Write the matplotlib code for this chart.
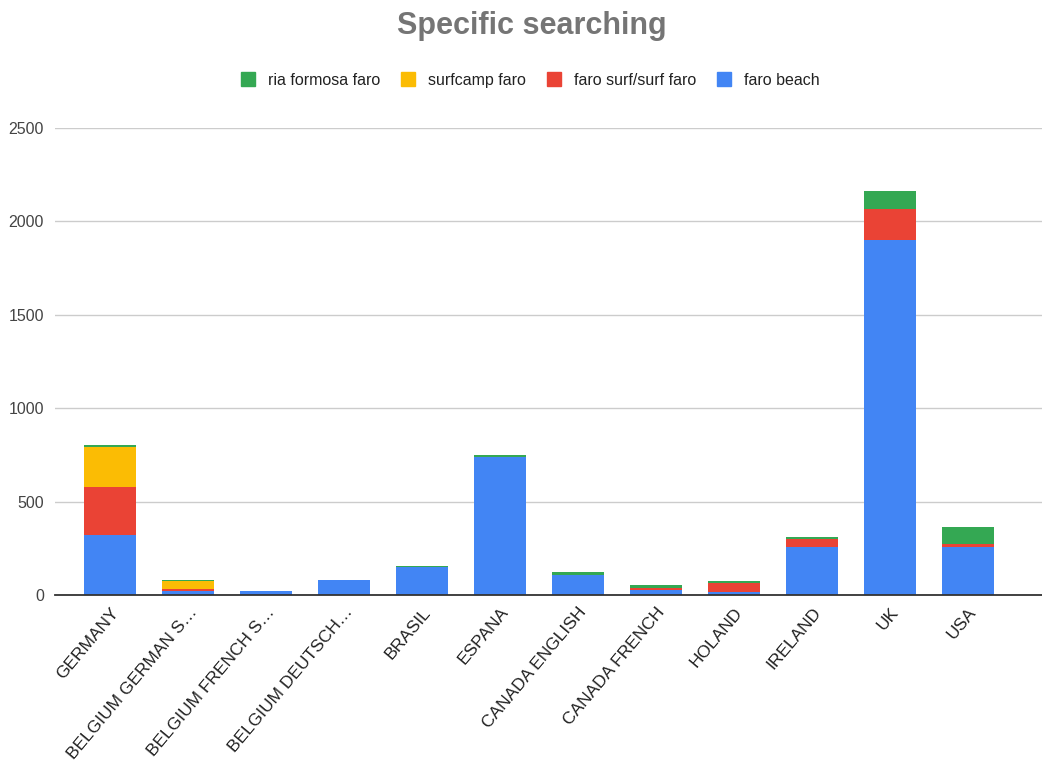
import matplotlib
matplotlib.use("Agg")
import matplotlib.pyplot as plt
from matplotlib.patches import Patch
import numpy as np

plt.rcParams['font.family'] = ['Liberation Sans', 'DejaVu Sans']

categories = ["GERMANY", "BELGIUM GERMAN S…", "BELGIUM FRENCH S…", "BELGIUM DEUTSCH…",
              "BRASIL", "ESPANA", "CANADA ENGLISH", "CANADA FRENCH", "HOLAND",
              "IRELAND", "UK", "USA"]
faro_beach = [320, 20, 20, 80, 150, 738, 105, 25, 14, 258, 1900, 258]
faro_surf = [260, 14, 0, 0, 0, 0, 0, 12, 50, 43, 164, 16]
surfcamp_faro = [214, 41, 0, 0, 0, 0, 0, 0, 0, 0, 0, 0]
ria_formosa_faro = [7, 6, 0, 0, 7, 9, 18, 14, 9, 9, 98, 89]

series = [
    ("faro beach", faro_beach, "#4285F4"),
    ("faro surf/surf faro", faro_surf, "#EA4335"),
    ("surfcamp faro", surfcamp_faro, "#FBBC04"),
    ("ria formosa faro", ria_formosa_faro, "#34A853"),
]

fig = plt.figure(figsize=(10.42, 7.69), dpi=100)
ax = fig.add_axes([55 / 1042, 1 - 595 / 769, (1042 - 55) / 1042, (595 - 128) / 769])

x = np.arange(len(categories))
bottom = np.zeros(len(categories))
for name, vals, color in series:
    vals = np.array(vals, dtype=float)
    ax.bar(x, vals, width=0.667, bottom=bottom, color=color, label=name, zorder=3)
    bottom += vals

ax.set_ylim(0, 2500)
ax.set_xlim(-0.71, 11.95)
ax.set_yticks([0, 500, 1000, 1500, 2000, 2500])
ax.yaxis.grid(True, color="#cccccc", linewidth=1, zorder=0)
ax.set_axisbelow(True)
for s in ["top", "right", "left"]:
    ax.spines[s].set_visible(False)
ax.spines["bottom"].set_color("#333333")
ax.spines["bottom"].set_linewidth(1.3)
ax.spines["bottom"].set_zorder(4)
ax.tick_params(axis="y", length=0, pad=8, labelsize=11.5, labelcolor="#444444")
ax.tick_params(axis="x", length=0, pad=7, labelsize=12.5, labelcolor="#222222")
ax.set_xticks(x)
ax.set_xticklabels(categories, rotation=50, ha="right", rotation_mode="anchor")

fig.text(532 / 1042, 1 - 26 / 769, "Specific searching", ha="center", va="center",
         fontsize=22, fontweight="bold", color="#757575")

handles = [Patch(facecolor=c, edgecolor=c, label=n) for n, _, c in series[::-1]]
fig.legend(handles=handles, loc="center", bbox_to_anchor=(530 / 1042, 1 - 80 / 769),
           ncol=4, frameon=False, fontsize=11.5, handlelength=0.9, handleheight=0.9,
           handletextpad=0.8, columnspacing=1.3, labelcolor="#222222")

fig.savefig("out.png", dpi=100)
